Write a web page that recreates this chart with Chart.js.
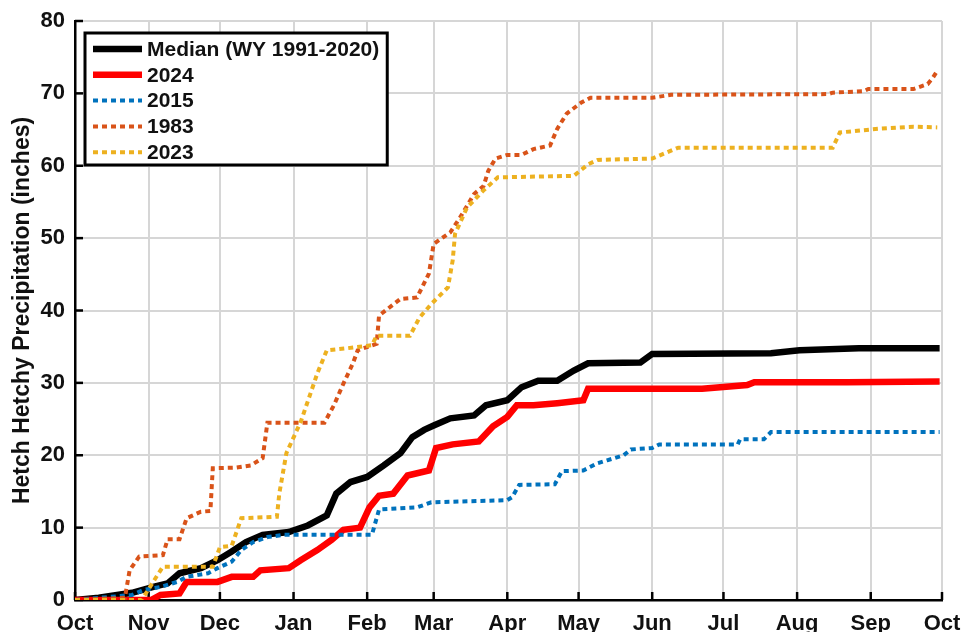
<!DOCTYPE html>
<html>
<head>
<meta charset="utf-8">
<script src="https://cdn.jsdelivr.net/npm/chart.js@4"></script>
<style>
  html, body { margin: 0; padding: 0; background: #fff; }
  #wrap { width: 966px; height: 632px; }
</style>
</head>
<body>
<div id="wrap"><canvas id="precipChart"></canvas></div>
<script>
// x = day of water year (0 = Oct 1), y = cumulative inches
var monthDays = [0, 31, 61, 92, 123, 151, 182, 212, 243, 273, 304, 335, 365];
var monthLabels = ['Oct', 'Nov', 'Dec', 'Jan', 'Feb', 'Mar', 'Apr', 'May', 'Jun', 'Jul', 'Aug', 'Sep', 'Oct'];
var yTicks = [0, 10, 20, 30, 40, 50, 60, 70, 80];

var seriesNames = ['Median (WY 1991-2020)', '2024', '2015', '1983', '2023'];

var medianDays = [0, 10, 24, 33, 39, 44, 53, 60, 66, 72, 79, 90, 98, 106, 110, 116, 123, 130, 137, 142, 147, 151, 158, 168, 173, 182, 188, 195, 203, 210, 216, 238, 243, 293, 305, 330, 364];
var medianVals = [0, 0.3, 1, 1.8, 2.3, 3.7, 4.4, 5.5, 6.7, 8, 9, 9.4, 10.3, 11.7, 14.7, 16.3, 17, 18.6, 20.3, 22.5, 23.5, 24.1, 25.1, 25.5, 26.9, 27.6, 29.4, 30.3, 30.3, 31.7, 32.7, 32.8, 34, 34.1, 34.5, 34.8, 34.8];

var days2024 = [0, 32, 36, 44, 47, 60, 66, 75, 78, 90, 95, 102, 108, 113, 120, 124, 128, 134, 140, 149, 152, 159, 170, 176, 182, 186, 193, 203, 214, 216, 264, 283, 286, 325, 364];
var vals2024 = [0, 0, 0.7, 0.9, 2.5, 2.5, 3.2, 3.2, 4.1, 4.4, 5.5, 6.9, 8.3, 9.7, 10, 12.8, 14.4, 14.7, 17.2, 17.9, 21, 21.5, 21.9, 24, 25.3, 26.9, 26.9, 27.2, 27.6, 29.2, 29.2, 29.7, 30.1, 30.1, 30.2];

var days2015 = [0, 24, 29, 36, 43, 47, 56, 60, 66, 70, 75, 81, 88, 125, 128, 144, 150, 182, 184, 187, 202, 205, 214, 220, 224, 231, 234, 243, 246, 279, 280, 290, 293, 364];
var vals2015 = [0, 0.7, 1.4, 1.8, 2.5, 3.2, 3.7, 4.4, 5.3, 6.9, 8, 8.7, 9, 9, 12.5, 12.8, 13.5, 13.8, 14.2, 15.9, 16, 17.8, 17.9, 18.9, 19.3, 20, 20.8, 21, 21.5, 21.5, 22.2, 22.2, 23.2, 23.2];

var days1983 = [0, 21, 23, 27, 37, 39, 44, 47, 53, 57, 58, 68, 74, 79, 81, 105, 109, 113, 117, 119, 127, 128, 137, 144, 149, 151, 158, 162, 168, 172, 174, 177, 182, 188, 193, 200, 203, 207, 213, 217, 243, 251, 317, 319, 332, 334, 353, 359, 361, 363];
var vals1983 = [0, 0.3, 4.1, 6, 6.2, 8.4, 8.4, 11.3, 12.2, 12.3, 18.2, 18.3, 18.6, 19.6, 24.5, 24.5, 26.9, 29.9, 32.7, 34.5, 35.4, 39.3, 41.6, 41.8, 45.1, 49.2, 50.8, 52.8, 56.1, 57.2, 59.3, 61, 61.5, 61.5, 62.3, 62.8, 65.1, 67.2, 68.7, 69.4, 69.4, 69.8, 69.9, 70.1, 70.3, 70.6, 70.6, 71.3, 72.1, 73.1];

var days2023 = [0, 28, 30, 36, 37, 58, 61, 66, 70, 85, 86, 89, 95, 99, 102, 106, 115, 125, 127, 141, 145, 150, 157, 159, 160, 165, 172, 178, 210, 216, 220, 243, 254, 319, 322, 338, 353, 363];
var vals2023 = [0, 0, 1, 4.1, 4.6, 4.6, 7.3, 7.5, 11.3, 11.5, 14.7, 20.3, 24.6, 28.4, 31.3, 34.5, 34.8, 35.2, 36.5, 36.5, 39, 40.9, 43.2, 46.9, 50.6, 54.2, 56.6, 58.4, 58.6, 60.2, 60.8, 61, 62.5, 62.5, 64.6, 65.1, 65.4, 65.3];

function pts(days, vals) {
    return days.map(function (d, i) { return { x: d, y: vals[i] }; });
}

var FONT = "'Liberation Sans', Arial, sans-serif";

// legend drawn inside the plot with a black box, MATLAB style
var boxLegend = {
    id: 'boxLegend',
    afterDraw: function (chart) {
        var ctx = chart.ctx;
        var area = chart.chartArea;
        var left = area.left + 10, top = area.top + 12;
        var rowH = 25.8, lineLen = 49, textX = left + 62;
        ctx.save();
        ctx.font = 'bold 21px ' + FONT;
        var maxW = 0;
        chart.data.datasets.forEach(function (ds) {
            maxW = Math.max(maxW, ctx.measureText(ds.label).width);
        });
        var w = textX - left + maxW + 8;
        var h = rowH * chart.data.datasets.length + 3;
        ctx.fillStyle = '#fff';
        ctx.fillRect(left, top, w, h);
        ctx.lineWidth = 3;
        ctx.strokeStyle = '#000';
        ctx.setLineDash([]);
        ctx.strokeRect(left, top, w, h);
        chart.data.datasets.forEach(function (ds, i) {
            var y = top + 16 + i * rowH;
            ctx.beginPath();
            ctx.strokeStyle = ds.borderColor;
            ctx.lineWidth = ds.borderWidth;
            ctx.setLineDash(ds.borderDash || []);
            ctx.moveTo(left + 8, y);
            ctx.lineTo(left + 8 + lineLen, y);
            ctx.stroke();
            ctx.setLineDash([]);
            ctx.fillStyle = '#111';
            ctx.textBaseline = 'middle';
            ctx.fillText(ds.label, textX, y + 1);
        });
        ctx.restore();
    }
};

// inward tick marks
var inTicks = {
    id: 'inTicks',
    beforeDatasetsDraw: function (chart) {
        var ctx = chart.ctx;
        var xs = chart.scales.x, ys = chart.scales.y;
        var area = chart.chartArea;
        ctx.save();
        ctx.strokeStyle = '#000';
        ctx.lineWidth = 2.5;
        monthDays.forEach(function (d) {
            var px = xs.getPixelForValue(d);
            ctx.beginPath();
            ctx.moveTo(px, area.bottom);
            ctx.lineTo(px, area.bottom - 8);
            ctx.stroke();
        });
        yTicks.forEach(function (v) {
            var py = ys.getPixelForValue(v);
            ctx.beginPath();
            ctx.moveTo(area.left, py);
            ctx.lineTo(area.left + 8, py);
            ctx.stroke();
        });
        ctx.restore();
    }
};

document.addEventListener('DOMContentLoaded', function () {
    var ctx = document.getElementById('precipChart').getContext('2d');
    var dotted = [5, 4];
    var precipChart = new Chart(ctx, {
        type: 'line',
        data: {
            datasets: [{
                label: seriesNames[0],
                data: pts(medianDays, medianVals),
                borderColor: '#000000',
                borderWidth: 6.5,
                order: 5
            }, {
                label: seriesNames[1],
                data: pts(days2024, vals2024),
                borderColor: '#ff0000',
                borderWidth: 6.5,
                order: 4
            }, {
                label: seriesNames[2],
                data: pts(days2015, vals2015),
                borderColor: '#0072bd',
                borderWidth: 4,
                borderDash: dotted,
                order: 3
            }, {
                label: seriesNames[3],
                data: pts(days1983, vals1983),
                borderColor: '#d95319',
                borderWidth: 4,
                borderDash: dotted,
                order: 2
            }, {
                label: seriesNames[4],
                data: pts(days2023, vals2023),
                borderColor: '#edb120',
                borderWidth: 4,
                borderDash: dotted,
                order: 1
            }]
        },
        options: {
            responsive: true,
            maintainAspectRatio: false,
            animation: false,
            layout: { padding: { top: 21, right: 24, left: 0, bottom: 0 } },
            elements: {
                point: { radius: 0 },
                line: { tension: 0, borderCapStyle: 'butt', borderJoinStyle: 'miter', fill: false }
            },
            plugins: {
                legend: { display: false },
                tooltip: { enabled: false }
            },
            scales: {
                x: {
                    type: 'linear',
                    min: 0,
                    max: 365,
                    afterBuildTicks: function (scale) {
                        scale.ticks = monthDays.map(function (d) { return { value: d }; });
                    },
                    afterFit: function (scale) {
                        scale.height = 32;
                        scale.paddingLeft = 0;
                        scale.paddingRight = 0;
                    },
                    ticks: {
                        autoSkip: false,
                        maxRotation: 0,
                        padding: 11,
                        color: '#111',
                        font: { family: FONT, size: 22, weight: 'bold' },
                        callback: function (value, index) { return monthLabels[index]; }
                    },
                    grid: { color: '#d6d6d6', lineWidth: 2, drawTicks: false },
                    border: { color: '#000', width: 2.5 }
                },
                y: {
                    min: 0,
                    max: 80,
                    afterBuildTicks: function (scale) {
                        scale.ticks = yTicks.map(function (v) { return { value: v }; });
                    },
                    afterFit: function (scale) {
                        scale.width = 75;
                        scale.paddingTop = 0;
                        scale.paddingBottom = 0;
                    },
                    ticks: {
                        padding: 10,
                        color: '#111',
                        font: { family: FONT, size: 22, weight: 'bold' }
                    },
                    grid: { color: '#d6d6d6', lineWidth: 2, drawTicks: false },
                    border: { color: '#000', width: 2.5 },
                    title: {
                        display: true,
                        text: 'Hetch Hetchy Precipitation (inches)',
                        color: '#111',
                        padding: { top: 9, bottom: 0 },
                        font: { family: FONT, size: 23, weight: 'bold' }
                    }
                }
            }
        },
        plugins: [inTicks, boxLegend]
    });
});
</script>
</body>
</html>
